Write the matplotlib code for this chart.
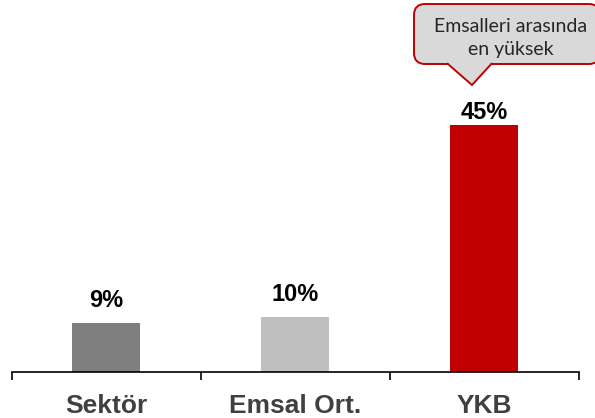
import matplotlib
matplotlib.use('Agg')
import matplotlib.pyplot as plt
from matplotlib.patches import FancyBboxPatch, Polygon

categories = ['Sektör', 'Emsal Ort.', 'YKB']
values = [9, 10, 45]
colors = ['#7f7f7f', '#bfbfbf', '#c00000']
label_gap = [11.5, 11.5, 4.3]  # points between bar top and label baseline
callout_text = 'Emsalleri arasında\nen yüksek'

fig = plt.figure(figsize=(5.95, 4.18), dpi=100)
W, H = 595, 418
ax = fig.add_axes([11.5 / W, 46 / H, 567 / W, 372 / H])

x = list(range(len(categories)))
ax.bar(x, values, width=0.36, color=colors, zorder=2)
for xi, v, g in zip(x, values, label_gap):
    ax.annotate('{}%'.format(v), (xi, v), xytext=(0, g), textcoords='offset points',
                ha='center', va='baseline', fontsize=17, fontweight='bold',
                color='black', family='Liberation Sans')

ax.set_xlim(-0.5, 2.5)
ax.set_ylim(0, 372 / 5.5)
for s in ['top', 'right', 'left']:
    ax.spines[s].set_visible(False)
ax.spines['bottom'].set_linewidth(1.2)
ax.set_yticks([])
ax.set_xticks([-0.5, 0.5, 1.5, 2.5])
ax.set_xticklabels([])
ax.tick_params(axis='x', which='major', length=6, width=1.2, direction='out')
ax.set_xticks(x, minor=True)
ax.set_xticklabels(categories, minor=True, fontsize=19, fontweight='bold',
                   color='#404040', family='Liberation Sans')
ax.tick_params(axis='x', which='minor', length=0, pad=16)

# callout box (figure pixel coords)
bx0, by0, bx1, by1 = 414, H - 64, 600, H - 4
box = FancyBboxPatch((bx0, by0), bx1 - bx0, by1 - by0,
                     boxstyle='round,pad=0,rounding_size=11',
                     transform=None, facecolor='#d9d9d9', edgecolor='#c00000',
                     linewidth=1.4, zorder=3)
fig.patches.append(box)
tri = Polygon([(447, by0 + 0.8), (472, H - 85), (492, by0 + 0.8)], closed=False,
              transform=None, facecolor='#d9d9d9', edgecolor='#c00000',
              linewidth=1.4, zorder=4)
fig.patches.append(tri)
cover = Polygon([(448.5, by0 + 1.6), (472, H - 83), (490.5, by0 + 1.6)],
                transform=None, facecolor='#d9d9d9', edgecolor='none', zorder=5)
fig.patches.append(cover)
fig.text(511 / W, 1 - 38 / H, callout_text, ha='center', va='center',
         fontsize=14, color='#262626', family='Lato', linespacing=1.38, zorder=6)

fig.savefig('out.png', dpi=100)
